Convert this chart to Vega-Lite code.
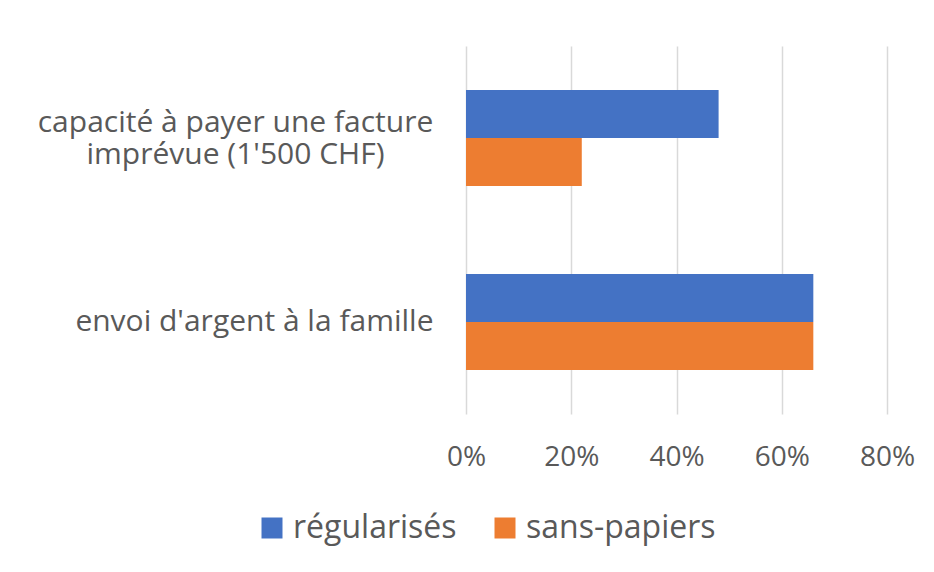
{
  "$schema": "https://vega.github.io/schema/vega-lite/v6.json",
  "autosize": {"type": "none"},
  "padding": {"left": 466, "top": 46, "right": 47, "bottom": 158},
  "width": 421,
  "height": 368,
  "background": "white",
  "data": {
    "values": [
      {"item": "capacité à payer une facture imprévue (1'500 CHF)", "group": "régularisés", "value": 0.48},
      {"item": "capacité à payer une facture imprévue (1'500 CHF)", "group": "sans-papiers", "value": 0.22},
      {"item": "envoi d'argent à la famille", "group": "régularisés", "value": 0.66},
      {"item": "envoi d'argent à la famille", "group": "sans-papiers", "value": 0.66}
    ]
  },
  "mark": {"type": "bar", "cornerRadius": 0},
  "encoding": {
    "y": {
      "field": "item",
      "type": "nominal",
      "sort": null,
      "scale": {"paddingInner": 0.478, "paddingOuter": 0.239},
      "axis": {
        "title": null,
        "domain": false,
        "ticks": false,
        "grid": false,
        "labelFont": "Open Sans",
        "labelFontSize": 30,
        "labelColor": "#595959",
        "labelLimit": 500,
        "labelLineHeight": 31.5,
        "labelBaseline": "middle",
        "labelAlign": {"condition": {"test": "indexof(datum.value, 'capacit') == 0", "value": "center"}, "value": "right"},
        "labelPadding": {"condition": {"test": "indexof(datum.value, 'capacit') == 0", "value": 231}, "value": 33},
        "labelOffset": {"condition": {"test": "indexof(datum.value, 'capacit') == 0", "value": -15}, "value": 0},
        "labelExpr": "indexof(datum.value, 'capacit') == 0 ? ['capacité à payer une facture', \"imprévue (1'500 CHF)\"] : datum.value"
      }
    },
    "yOffset": {"field": "group", "type": "nominal", "sort": ["régularisés", "sans-papiers"]},
    "x": {
      "field": "value",
      "type": "quantitative",
      "scale": {"domain": [0, 0.8], "nice": false},
      "axis": {
        "title": null,
        "format": ".0%",
        "values": [0, 0.2, 0.4, 0.6, 0.8],
        "domain": false,
        "ticks": false,
        "grid": true,
        "gridColor": "#d9d9d9",
        "gridWidth": 1.5,
        "labelFont": "Open Sans",
        "labelFontSize": 28,
        "labelColor": "#595959",
        "labelPadding": 29,
        "labelFlush": false,
        "labelOverlap": false
      }
    },
    "color": {
      "field": "group",
      "type": "nominal",
      "sort": ["régularisés", "sans-papiers"],
      "scale": {"domain": ["régularisés", "sans-papiers"], "range": ["#4472c4", "#ed7d31"]},
      "legend": {
        "title": null,
        "orient": "none",
        "legendX": -210,
        "legendY": 466,
        "direction": "horizontal",
        "symbolType": "square",
        "symbolSize": 441,
        "symbolStrokeWidth": 0,
        "symbolOpacity": 1,
        "labelFont": "Open Sans",
        "labelFontSize": 32,
        "labelColor": "#595959",
        "labelOffset": 5,
        "labelLimit": 400,
        "columnPadding": 32,
        "padding": 0
      }
    }
  },
  "config": {
    "view": {"stroke": null}
  }
}
